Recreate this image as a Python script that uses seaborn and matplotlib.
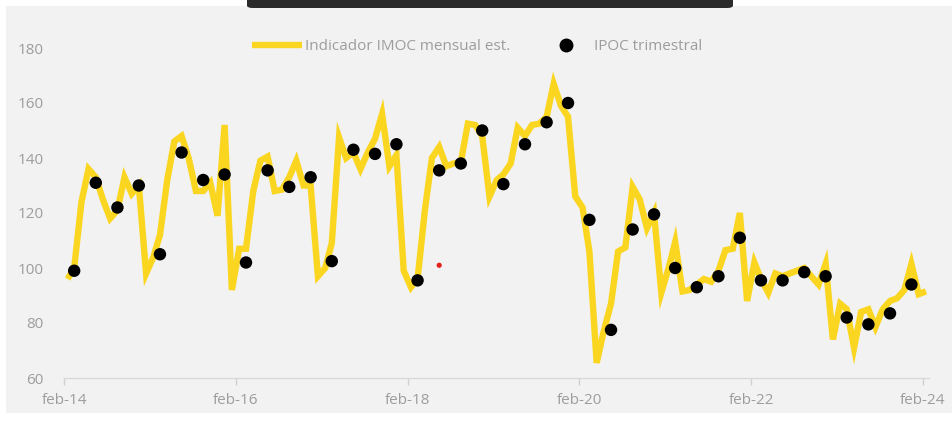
import matplotlib
matplotlib.use("Agg")
import matplotlib.pyplot as plt
from matplotlib.lines import Line2D
from matplotlib.patches import FancyBboxPatch, Rectangle
import numpy as np
import pandas as pd
import seaborn as sns

# Monthly estimated IMOC indicator, feb-2014 .. feb-2024
imoc_mensual = [
    96, 100, 124, 136, 133, 125, 118, 121, 133, 127, 130, 98,
    104, 112, 132, 146, 148, 140, 128, 128, 131, 119, 152, 92,
    107, 107, 128, 139, 140.5, 128, 128.5, 133, 139, 130, 130, 97,
    100, 109, 147.5, 140, 142, 136, 142, 147, 156, 137, 141, 99,
    93, 96, 121, 140, 144, 137, 138, 138.5, 152.5, 152, 148, 126,
    132, 134, 138, 151, 148, 152, 152.5, 155, 167, 159, 155, 126,
    122, 106, 65.5, 77, 87, 106, 107.5, 129.5, 125, 114.5, 120, 91,
    100, 109.5, 91.5, 92, 94, 96, 95, 99, 106.5, 107, 120, 88,
    102, 96, 91, 98, 97, 98, 99, 100, 97, 94, 101.5, 74,
    87, 85, 71, 84, 85, 78.5, 85, 88, 89, 92, 101.5, 90.5,
    91.5,
]

# Quarterly IPOC, mar-2014 .. dec-2023
ipoc_trimestral = [
    99, 131, 122, 130,
    105, 142, 132, 134,
    102, 135.5, 129.5, 133,
    102.5, 143, 141.5, 145,
    95.5, 135.5, 138, 150,
    130.5, 145, 153, 160,
    117.5, 77.5, 114, 119.5,
    100, 93, 97, 111,
    95.5, 95.5, 98.5, 97,
    82, 79.5, 83.5, 94,
]

# Single isolated observation shown as a small red point
punto_aislado_fecha = ["2018-06"]
punto_aislado_valor = [101]

meses = pd.date_range("2014-02-01", periods=len(imoc_mensual), freq="MS")
trimestres = pd.date_range("2014-03-01", periods=len(ipoc_trimestral), freq="3MS")

tick_fechas = ["2014-02-01", "2016-02-01", "2018-02-01", "2020-02-01", "2022-02-01", "2024-02-01"]
tick_etiquetas = ["feb-14", "feb-16", "feb-18", "feb-20", "feb-22", "feb-24"]
y_ticks = [60, 80, 100, 120, 140, 160, 180]

# Points sit in the middle of each month
mitad = pd.Timedelta(days=14)
df_m = pd.DataFrame({"fecha": meses + mitad, "valor": imoc_mensual})
df_q = pd.DataFrame({"fecha": trimestres + mitad, "valor": ipoc_trimestral})
df_r = pd.DataFrame({"fecha": pd.to_datetime(punto_aislado_fecha) + mitad,
                     "valor": punto_aislado_valor})

sns.set_theme(style="white")
plt.rcParams["font.family"] = ["Open Sans", "DejaVu Sans"]

AMARILLO = "#FAD620"
GRIS_TEXTO = "#9d9d9d"
FONDO = "#f2f2f2"

fig = plt.figure(figsize=(9.53, 4.22), dpi=100)
fig.patch.set_facecolor("white")

# grey panel behind the chart
fig.patches.append(Rectangle((6 / 953, 9 / 422), 1 - 6 / 953, 1 - 15 / 422,
                             transform=fig.transFigure, facecolor=FONDO,
                             edgecolor="none", zorder=-2))
# dark bar along the top edge
fig.patches.append(FancyBboxPatch((247 / 953, 1 - 8 / 422), 486 / 953, 12 / 422,
                                  boxstyle="round,pad=0,rounding_size=0.006",
                                  transform=fig.transFigure, facecolor="#2b2b2b",
                                  edgecolor="none", zorder=-1, clip_on=False))

ax = fig.add_axes([64.3 / 953, 1 - 378 / 422, (929.5 - 64.3) / 953, (378 - 48) / 422])
ax.set_zorder(2)
ax.set_facecolor("none")

sns.lineplot(data=df_m, x="fecha", y="valor", ax=ax, color=AMARILLO,
             linewidth=4.6, solid_joinstyle="miter", solid_capstyle="butt",
             clip_on=False, zorder=2)
sns.scatterplot(data=df_q, x="fecha", y="valor", ax=ax, color="black",
                s=80, edgecolor="none", clip_on=False, zorder=3)
sns.scatterplot(data=df_r, x="fecha", y="valor", ax=ax, color="#e3201b",
                s=14, edgecolor="none", zorder=3)

ax.set_xlim(pd.Timestamp("2014-02-01"), pd.Timestamp("2024-03-01"))
ax.set_ylim(60, 180)
ax.set_xticks(pd.to_datetime(tick_fechas))
ax.set_xticklabels(tick_etiquetas)
ax.set_yticks(y_ticks)
ax.set_yticklabels([str(v) for v in y_ticks])
ax.set_xlabel("")
ax.set_ylabel("")

for lado in ["top", "right", "left"]:
    ax.spines[lado].set_visible(False)
ax.spines["bottom"].set_color("#d9d9d9")
ax.spines["bottom"].set_linewidth(1.0)

ax.tick_params(axis="x", colors="#d0d0d0", labelcolor=GRIS_TEXTO, labelsize=11,
               length=5, width=1, direction="out", pad=6, bottom=True)
ax.tick_params(axis="y", labelcolor=GRIS_TEXTO, labelsize=11, length=0, pad=15)

handles = [
    Line2D([], [], color=AMARILLO, linewidth=4.6, solid_capstyle="butt"),
    Line2D([], [], color="black", marker="o", linestyle="none", markersize=9),
]
leg = ax.legend(handles, ["Indicador IMOC mensual est.", "IPOC trimestral"],
                loc="center", bbox_to_anchor=(477 / 953, 1 - 47 / 422),
                bbox_transform=fig.transFigure, ncol=2, frameon=False,
                fontsize=11, handlelength=3.3, handletextpad=0.2,
                columnspacing=1.95, labelcolor=GRIS_TEXTO)

fig.savefig("out.png", dpi=100, facecolor=fig.get_facecolor())
